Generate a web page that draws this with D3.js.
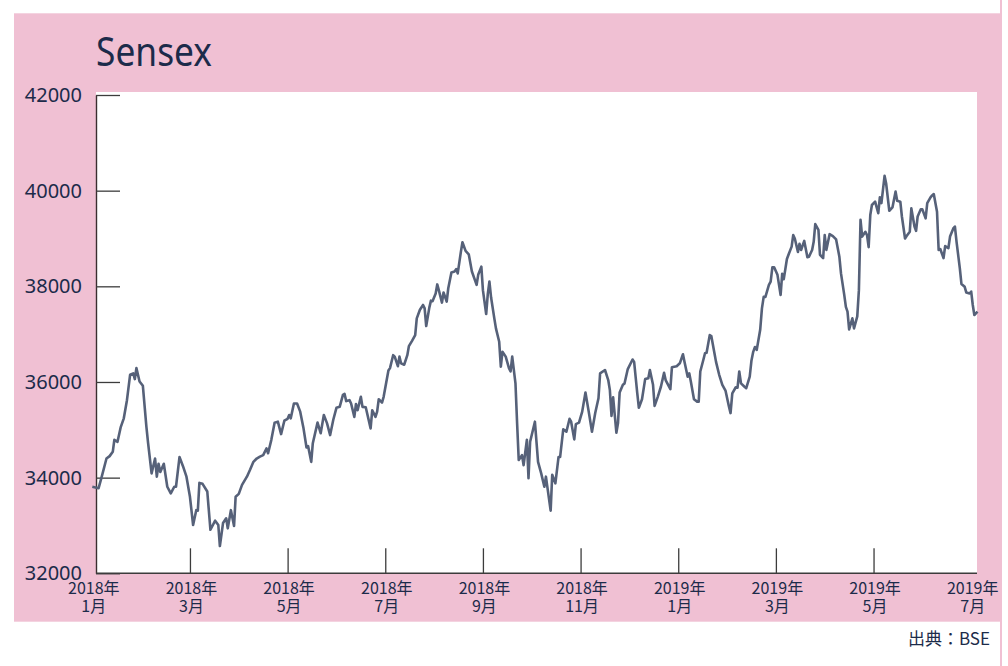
<!DOCTYPE html>
<html>
<head>
<meta charset="utf-8">
<script src="https://cdn.jsdelivr.net/npm/d3@7"></script>
<style>
    body { margin: 0; background: #fff; }
    text { font-family: "Noto Sans CJK JP", "Noto Sans", sans-serif; fill: #1c2b4a; }
</style>
</head>
<body>
<svg id="sensex-chart" width="1008" height="666"></svg>
<script>
    // Sensex closing values
    var dates = [
        "2018-01-01","2018-01-05","2018-01-07","2018-01-10","2018-01-12","2018-01-14","2018-01-15","2018-01-17","2018-01-19","2018-01-21",
        "2018-01-23","2018-01-25","2018-01-27","2018-01-28","2018-01-29","2018-01-31","2018-02-02","2018-02-04","2018-02-05","2018-02-07",
        "2018-02-09","2018-02-10","2018-02-11","2018-02-12","2018-02-14","2018-02-16","2018-02-18","2018-02-20","2018-02-21","2018-02-23",
        "2018-02-25","2018-02-27","2018-03-01","2018-03-03","2018-03-05","2018-03-06","2018-03-07","2018-03-09","2018-03-12","2018-03-14",
        "2018-03-17","2018-03-19","2018-03-20","2018-03-22","2018-03-24","2018-03-25","2018-03-27","2018-03-29","2018-03-30","2018-04-01",
        "2018-04-03","2018-04-06","2018-04-08","2018-04-10","2018-04-12","2018-04-14","2018-04-16","2018-04-18","2018-04-19","2018-04-21",
        "2018-04-23","2018-04-25","2018-04-27","2018-04-29","2018-05-01","2018-05-02","2018-05-03","2018-05-05","2018-05-07","2018-05-09",
        "2018-05-11","2018-05-13","2018-05-14","2018-05-16","2018-05-17","2018-05-20","2018-05-22","2018-05-24","2018-05-26","2018-05-28",
        "2018-05-30","2018-06-01","2018-06-03","2018-06-05","2018-06-06","2018-06-07","2018-06-09","2018-06-10","2018-06-12","2018-06-13",
        "2018-06-14","2018-06-16","2018-06-17","2018-06-19","2018-06-22","2018-06-23","2018-06-25","2018-06-26","2018-06-27","2018-06-29",
        "2018-06-30","2018-07-03","2018-07-04","2018-07-06","2018-07-07","2018-07-09","2018-07-10","2018-07-11","2018-07-13","2018-07-15",
        "2018-07-16","2018-07-18","2018-07-20","2018-07-21","2018-07-23","2018-07-25","2018-07-26","2018-07-27","2018-07-29","2018-07-30",
        "2018-07-31","2018-08-02","2018-08-03","2018-08-04","2018-08-06","2018-08-07","2018-08-09","2018-08-10","2018-08-12","2018-08-14",
        "2018-08-15","2018-08-16","2018-08-18","2018-08-19","2018-08-21","2018-08-23","2018-08-25","2018-08-28","2018-08-29","2018-08-31",
        "2018-09-01","2018-09-03","2018-09-04","2018-09-05","2018-09-06","2018-09-08","2018-09-09","2018-09-11","2018-09-12","2018-09-13",
        "2018-09-15","2018-09-17","2018-09-18","2018-09-19","2018-09-21","2018-09-22","2018-09-23","2018-09-25","2018-09-26","2018-09-28",
        "2018-09-29","2018-09-30","2018-10-03","2018-10-05","2018-10-07","2018-10-09","2018-10-10","2018-10-13","2018-10-14","2018-10-16",
        "2018-10-18","2018-10-19","2018-10-21","2018-10-23","2018-10-25","2018-10-26","2018-10-28","2018-10-29","2018-10-31","2018-11-02",
        "2018-11-04","2018-11-06","2018-11-08","2018-11-10","2018-11-12","2018-11-13","2018-11-16","2018-11-18","2018-11-19","2018-11-20",
        "2018-11-21","2018-11-23","2018-11-24","2018-11-25","2018-11-27","2018-11-28","2018-11-30","2018-12-03","2018-12-04","2018-12-06",
        "2018-12-07","2018-12-09","2018-12-11","2018-12-13","2018-12-14","2018-12-16","2018-12-17","2018-12-19","2018-12-21","2018-12-23",
        "2018-12-24","2018-12-27","2018-12-28","2018-12-31","2019-01-02","2019-01-04","2019-01-05","2019-01-07","2019-01-08","2019-01-09",
        "2019-01-11","2019-01-13","2019-01-14","2019-01-15","2019-01-17","2019-01-18","2019-01-19","2019-01-21","2019-01-22","2019-01-24",
        "2019-01-25","2019-01-27","2019-01-29","2019-01-31","2019-02-02","2019-02-03","2019-02-04","2019-02-06","2019-02-07","2019-02-08",
        "2019-02-09","2019-02-11","2019-02-12","2019-02-14","2019-02-15","2019-02-16","2019-02-17","2019-02-18","2019-02-20","2019-02-21",
        "2019-02-22","2019-02-23","2019-02-25","2019-02-26","2019-02-27","2019-02-28","2019-03-02","2019-03-04","2019-03-05","2019-03-06",
        "2019-03-08","2019-03-09","2019-03-11","2019-03-12","2019-03-13","2019-03-15","2019-03-16","2019-03-17","2019-03-19","2019-03-21",
        "2019-03-22","2019-03-24","2019-03-25","2019-03-26","2019-03-28","2019-03-29","2019-03-31","2019-04-01","2019-04-02","2019-04-04",
        "2019-04-06","2019-04-08","2019-04-10","2019-04-11","2019-04-13","2019-04-14","2019-04-15","2019-04-16","2019-04-18","2019-04-19",
        "2019-04-21","2019-04-22","2019-04-23","2019-04-24","2019-04-26","2019-04-27","2019-04-28","2019-04-29","2019-04-30","2019-05-02",
        "2019-05-04","2019-05-05","2019-05-06","2019-05-08","2019-05-09","2019-05-11","2019-05-13","2019-05-15","2019-05-16","2019-05-18",
        "2019-05-19","2019-05-21","2019-05-22","2019-05-24","2019-05-25","2019-05-27","2019-05-28","2019-05-29","2019-05-31","2019-06-01",
        "2019-06-03","2019-06-04","2019-06-06","2019-06-07","2019-06-08","2019-06-10","2019-06-11","2019-06-12","2019-06-14","2019-06-15",
        "2019-06-17","2019-06-18","2019-06-20","2019-06-21","2019-06-22","2019-06-24","2019-06-25","2019-06-27","2019-06-28","2019-06-30",
        "2019-07-01","2019-07-02","2019-07-03","2019-07-05"
    ];
    var values = [
        33810,33780,34020,34400,34450,34540,34790,34750,35050,35240,
        35620,36150,36180,36060,36290,36010,35920,35070,34720,34090,
        34400,34020,34290,34120,34290,33810,33670,33810,33810,34430,
        34240,34020,33600,33010,33320,33310,33890,33870,33710,32910,
        33100,33010,32570,33050,33150,32940,33320,32990,33600,33660,
        33850,34020,34170,34330,34400,34440,34470,34610,34510,34790,
        35150,35170,34910,35190,35230,35310,35240,35550,35550,35380,
        35050,34630,34660,34330,34720,35150,34930,35310,35140,34890,
        35210,35460,35480,35730,35750,35600,35620,35550,35270,35540,
        35410,35690,35480,35470,35030,35410,35270,35380,35640,35570,
        35690,36240,36290,36560,36530,36330,36530,36390,36360,36560,
        36750,36860,36980,37330,37510,37610,37540,37170,37560,37700,
        37690,37850,38040,37920,37660,37870,37680,37960,38290,38310,
        38360,38270,38720,38920,38740,38670,38310,38030,38240,38410,
        37920,37420,37840,38100,37770,37330,37120,36840,36320,36630,
        36530,36290,36220,36530,35970,35140,34370,34470,34260,34790,
        33990,34750,35170,34330,34090,33810,34020,33310,34060,33880,
        34430,34430,35010,34960,35230,35170,34800,35120,35150,35380,
        35780,35380,34960,35350,35660,36180,36250,36040,35830,35290,
        35680,34940,35140,35780,35940,35970,36270,36470,36420,35760,
        35460,35640,36060,36080,36250,35940,35500,35690,35900,36190,
        36040,35850,36310,36330,36390,36580,36420,36110,36180,36010,
        35640,35590,35590,36220,36470,36600,36610,36980,36960,36600,
        36420,36150,35940,35820,35500,35350,35760,35890,35880,36220,
        35970,35900,35870,36110,36450,36630,36730,36670,37090,37540,
        37780,37780,38030,38100,38400,38400,38240,37820,38260,38150,
        38570,38660,38830,39070,39000,38720,38890,38760,38950,38610,
        38620,38760,38930,39300,39180,38660,38590,39070,38760,39090,
        39050,38980,38620,38270,37820,37570,37470,37100,37330,37120,
        37370,37920,39390,39040,39140,39070,38820,39490,39700,39770,
        39530,39860,39740,40310,40150,39580,39650,39980,39790,39770,
        39460,39000,39050,39140,39630,39250,39160,39460,39610,39610,
        39420,39740,39860,39900,39930,39560,38760,38780,38590,38840,
        38800,39040,39210,39250,38930,38380,38050,37990,37870,37850,
        37890,37610,37400,37470
    ];

    var yTicks = [32000, 34000, 36000, 38000, 40000, 42000];
    var xTickMonths = [0, 2, 4, 6, 8, 10, 12, 14, 16, 18];   // months since Jan 2018
    var xTickYears = ["2018年","2018年","2018年","2018年","2018年","2018年","2019年","2019年","2019年","2019年"];
    var xTickMonthLabels = ["1月","3月","5月","7月","9月","11月","1月","3月","5月","7月"];

    var titleText = "Sensex";
    var sourceText = "出典：BSE";

    var plot = { left: 96, right: 977, top: 92, bottom: 573.3 };

    var svg = d3.select("#sensex-chart");

    // pink frame, white plot area
    svg.append("rect")
        .attr("x", 14).attr("y", 13.3)
        .attr("width", 1001.7 - 14).attr("height", 621.7 - 13.3)
        .attr("fill", "#f0c0d3");
    svg.append("rect")
        .attr("x", 1000).attr("y", 0)
        .attr("width", 2).attr("height", 666)
        .attr("fill", "#f0c0d3");
    svg.append("rect")
        .attr("x", plot.left).attr("y", plot.top)
        .attr("width", plot.right - plot.left).attr("height", plot.bottom - plot.top)
        .attr("fill", "#fff");

    svg.append("text")
        .attr("x", 96).attr("y", 66)
        .attr("font-size", 40)
        .attr("textLength", 116)
        .attr("lengthAdjust", "spacingAndGlyphs")
        .style("font-family", "'Noto Sans', sans-serif")
        .text(titleText);

    var parse = d3.timeParse("%Y-%m-%d");
    // position on a month axis: every month gets the same width
    function monthPos(d){
        var days = new Date(d.getFullYear(), d.getMonth() + 1, 0).getDate();
        return (d.getFullYear() - 2018) * 12 + d.getMonth() + (d.getDate() - 1) / days;
    }

    var data = dates.map(function(s, i){
        return { date: parse(s), value: values[i] };
    });

    var x = d3.scaleLinear().domain([0, 18]).range([92.3, 971.2]);
    var y = d3.scaleLinear().domain([32000, 42000]).range([573.3, 95]);

    // y axis: ticks point inward, labels left
    var yAxis = d3.axisLeft(y)
        .tickValues(yTicks)
        .tickSizeInner(-24)
        .tickSizeOuter(0)
        .tickPadding(14)
        .tickFormat(d3.format("d"));

    var gy = svg.append("g")
        .attr("transform", "translate(" + plot.left + ",0)")
        .call(yAxis);
    gy.select(".domain").attr("stroke", "#3a2e30").attr("stroke-width", 1.4);
    gy.selectAll(".tick line").attr("stroke", "#3c3c3c").attr("stroke-width", 1.3);
    gy.selectAll(".tick text")
        .attr("font-size", 20)
        .attr("fill", "#1c2b4a")
        .style("font-family", "'Noto Sans', sans-serif");

    // x axis: tick marks upward at every other month, labels drawn below
    var xAxis = d3.axisBottom(x)
        .tickValues(xTickMonths.slice(1, -1))
        .tickSizeInner(-25)
        .tickSizeOuter(0)
        .tickFormat("");

    var gx = svg.append("g")
        .attr("transform", "translate(0," + plot.bottom + ")")
        .call(xAxis);
    gx.select(".domain").remove();
    gx.selectAll(".tick line").attr("stroke", "#3c3c3c").attr("stroke-width", 1.3);

    svg.append("line")
        .attr("x1", plot.left).attr("x2", plot.right)
        .attr("y1", plot.bottom).attr("y2", plot.bottom)
        .attr("stroke", "#3c3c3c").attr("stroke-width", 1.4);

    var xLabels = svg.append("g");
    xLabels.selectAll(".x-year")
        .data(xTickMonths)
        .enter()
        .append("text")
        .classed("x-year", true)
        .attr("text-anchor", "middle")
        .attr("font-size", 16)
        .attr("x", function(d){ return x(d) + 1.5; })
        .attr("y", 593.5)
        .text(function(d, i){ return xTickYears[i]; });
    xLabels.selectAll(".x-month")
        .data(xTickMonths)
        .enter()
        .append("text")
        .classed("x-month", true)
        .attr("text-anchor", "middle")
        .attr("font-size", 16)
        .attr("x", function(d){ return x(d) + 1.5; })
        .attr("y", 612)
        .text(function(d, i){ return xTickMonthLabels[i]; });

    // the index line
    var line = d3.line()
        .x(function(d){ return x(monthPos(d.date)); })
        .y(function(d){ return y(d.value); });

    svg.append("path")
        .datum(data)
        .attr("d", line)
        .attr("fill", "none")
        .attr("stroke", "#566179")
        .attr("stroke-width", 2.6)
        .attr("stroke-linejoin", "round");

    svg.append("text")
        .attr("x", 990).attr("y", 645)
        .attr("text-anchor", "end")
        .attr("font-size", 17)
        .text(sourceText);
</script>
</body>
</html>
